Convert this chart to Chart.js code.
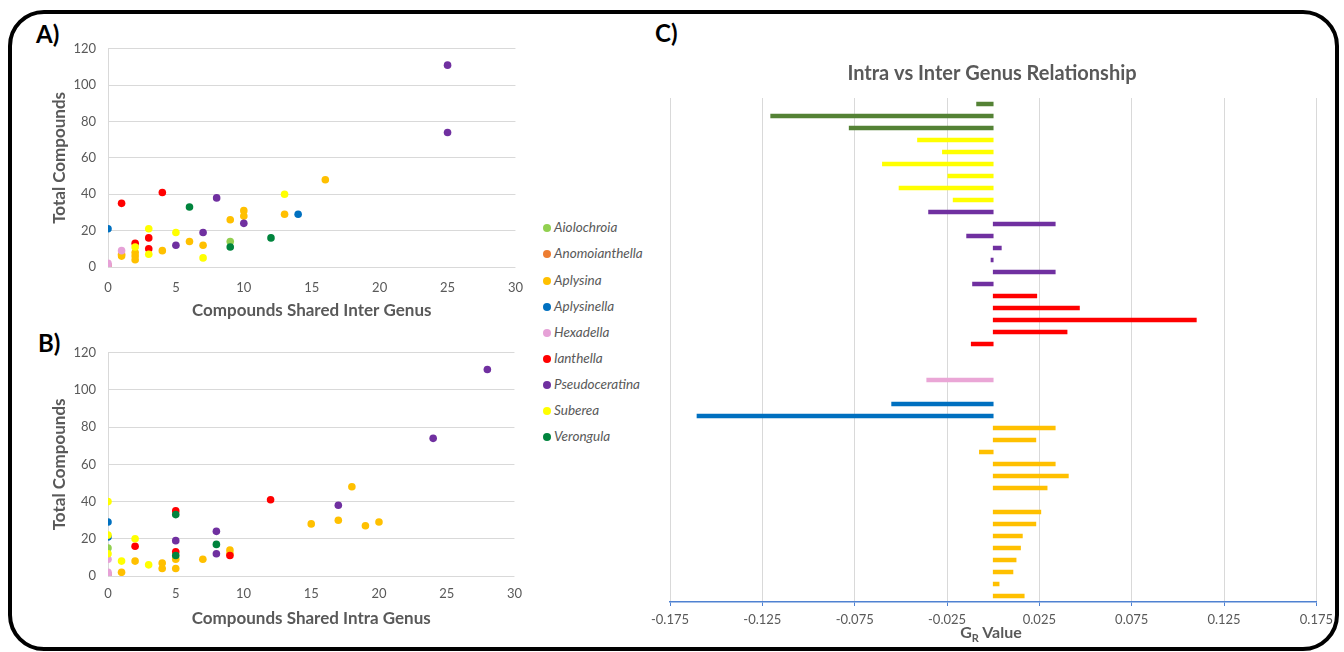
<!DOCTYPE html>
<html>
<head>
<meta charset="utf-8">
<script src="https://cdn.jsdelivr.net/npm/chart.js@4"></script>
<style>
    html, body { margin: 0; padding: 0; background: #fff; }
    body { width: 1344px; height: 652px; position: relative; overflow: hidden; font-family: Lato, "Open Sans", sans-serif; }
    canvas { position: absolute; }
    .frame {
        position: absolute; left: 8px; top: 10px; width: 1331px; height: 641px;
        border: 4px solid #000; border-radius: 36px; box-sizing: border-box;
        pointer-events: none; z-index: 5;
    }
    .panel-label { position: absolute; font-weight: bold; font-size: 24px; line-height: 1; color: #000; }
    .legend { position: absolute; left: 543px; top: 0; }
    .legend-item { position: absolute; left: 0; white-space: nowrap; font-style: italic; font-size: 13.5px; line-height: 14px; color: #595959; }
    .legend-dot { display: inline-block; width: 8px; height: 8px; border-radius: 50%; margin-right: 3px; }
    .gr-title { position: absolute; left: 900px; width: 182px; top: 624px; text-align: center; font-weight: bold; font-size: 16px; line-height: 1; color: #595959; }
    .gr-title sub { font-size: 11px; vertical-align: -4px; line-height: 0; }
</style>
</head>
<body>
<div class="frame"></div>
<div class="panel-label" style="left:36px; top:22px;">A)</div>
<div class="panel-label" style="left:38px; top:331px;">B)</div>
<div class="panel-label" style="left:655px; top:21px;">C)</div>

<canvas id="chartA" width="496" height="297" style="left:40px; top:29px;"></canvas>
<canvas id="chartB" width="492" height="307" style="left:40px; top:333px;"></canvas>
<canvas id="chartC" width="694" height="592" style="left:645px; top:50px;"></canvas>
<div class="legend" id="legend"></div>
<div class="gr-title">G<sub>R</sub> Value</div>

<script>
// genus names and colours used by the scatter plots / legend
const genera = ['Aiolochroia', 'Anomoianthella', 'Aplysina', 'Aplysinella', 'Hexadella', 'Ianthella', 'Pseudoceratina', 'Suberea', 'Verongula'];
const dotColors = ['#92D050', '#ED7D31', '#FFC000', '#0070C0', '#E6A1D7', '#FF0000', '#7030A0', '#FFFF00', '#00843D'];

// A) compounds shared inter genus vs total compounds  [x, y]
const aiolochroiaInter = [[9, 14]];
const anomoianthellaInter = [[0, 1]];
const aplysinaInter = [[1, 7], [1, 6], [2, 8], [2, 6], [2, 4], [4, 9], [6, 14], [7, 12], [9, 26], [10, 31], [10, 28], [13, 29], [16, 48]];
const aplysinellaInter = [[0, 21], [14, 29]];
const hexadellaInter = [[1, 9], [0, 2], [0, 1]];
const ianthellaInter = [[1, 35], [4, 41], [3, 16], [2, 13], [3, 10]];
const pseudoceratinaInter = [[25, 111], [25, 74], [8, 38], [10, 24], [7, 19], [5, 12]];
const subereaInter = [[13, 40], [3, 21], [5, 19], [2, 11], [3, 7], [7, 5]];
const verongulaInter = [[6, 33], [12, 16], [9, 11]];

// B) compounds shared intra genus vs total compounds  [x, y]
const aiolochroiaIntra = [[0, 15]];
const anomoianthellaIntra = [[0, 1]];
const aplysinaIntra = [[1, 2], [2, 8], [4, 7], [4, 4], [5, 9], [5, 4], [7, 9], [9, 14], [9, 12], [15, 28], [17, 30], [18, 48], [19, 27], [20, 29]];
const aplysinellaIntra = [[0, 29], [0, 21]];
const hexadellaIntra = [[0, 9], [0, 2], [0, 1]];
const ianthellaIntra = [[12, 41], [5, 35], [2, 16], [5, 13], [9, 11]];
const pseudoceratinaIntra = [[28, 111], [24, 74], [17, 38], [8, 24], [5, 19], [8, 12]];
const subereaIntra = [[0, 40], [0, 22], [2, 20], [0, 12], [1, 8], [3, 6]];
const verongulaIntra = [[5, 33], [8, 17], [5, 11]];

const interData = [aiolochroiaInter, anomoianthellaInter, aplysinaInter, aplysinellaInter, hexadellaInter, ianthellaInter, pseudoceratinaInter, subereaInter, verongulaInter];
const intraData = [aiolochroiaIntra, anomoianthellaIntra, aplysinaIntra, aplysinellaIntra, hexadellaIntra, ianthellaIntra, pseudoceratinaIntra, subereaIntra, verongulaIntra];

// C) GR value per species, top to bottom (null = no bar)
const grGenus = [
    'Verongula', 'Verongula', 'Verongula',
    'Suberea', 'Suberea', 'Suberea', 'Suberea', 'Suberea', 'Suberea',
    'Pseudoceratina', 'Pseudoceratina', 'Pseudoceratina', 'Pseudoceratina', 'Pseudoceratina', 'Pseudoceratina', 'Pseudoceratina',
    'Ianthella', 'Ianthella', 'Ianthella', 'Ianthella', 'Ianthella',
    'Hexadella', 'Hexadella', 'Hexadella',
    'Aiolochroia',
    'Aplysinella', 'Aplysinella',
    'Aplysina', 'Aplysina', 'Aplysina', 'Aplysina', 'Aplysina', 'Aplysina', 'Aplysina', 'Aplysina',
    'Aplysina', 'Aplysina', 'Aplysina', 'Aplysina', 'Aplysina', 'Aplysina', 'Aplysina'
];
const grValues = [
    -0.009, -0.1205, -0.078,
    -0.041, -0.0275, -0.060, -0.0246, -0.051, -0.0217,
    -0.035, 0.0336, -0.0144, 0.0044, -0.0012, 0.0336, -0.0112,
    0.0236, 0.0467, 0.110, 0.040, -0.0119,
    null, null, -0.036,
    null,
    -0.055, -0.1604,
    0.0336, 0.0231, -0.0075, 0.0336, 0.0407, 0.0292, null, 0.0258,
    0.0231, 0.0158, 0.0148, 0.0124, 0.0107, 0.0032, 0.0168
];
const grTicks = [-0.175, -0.125, -0.075, -0.025, 0.025, 0.075, 0.125, 0.175];
const barColors = {
    Verongula: '#548235', Suberea: '#FFFF00', Pseudoceratina: '#7030A0', Ianthella: '#FF0000',
    Hexadella: '#EAA6D6', Aiolochroia: '#92D050', Aplysinella: '#0070C0', Aplysina: '#FFC000'
};

const FONT = 'Lato, "Open Sans", sans-serif';
const GREY = '#595959';
const GRID = '#d9d9d9';

// legend between the scatter plots
const legendEl = document.getElementById('legend');
const legendTops = [227, 253, 280, 306, 332, 358, 384, 410, 436];
genera.forEach((g, i) => {
    const item = document.createElement('div');
    item.className = 'legend-item';
    item.style.top = (legendTops[i] - 7) + 'px';
    item.innerHTML = `<span class="legend-dot" style="background:${dotColors[i]}"></span>${g}`;
    legendEl.appendChild(item);
});

const scatterDatasets = (data) => genera.map((g, i) => ({
    label: g,
    data: data[i].map(([x, y]) => ({ x, y })),
    backgroundColor: dotColors[i],
    borderWidth: 0,
    pointRadius: 3.8,
    order: genera.length - i // later genera drawn on top
}));

const scatterOptions = (xTitle, o) => ({
    responsive: false,
    animation: false,
    layout: { padding: { top: o.padTop, right: 0, bottom: 0, left: 0 } },
    plugins: { legend: { display: false }, tooltip: { enabled: false } },
    scales: {
        x: {
            type: 'linear', min: 0, max: 30,
            ticks: { stepSize: 5, color: GREY, font: { family: FONT, size: 13 }, padding: o.tickPad },
            grid: { display: false, drawTicks: false },
            border: { display: false },
            title: { display: true, text: xTitle, color: GREY, font: { family: FONT, size: 17, weight: 'bold' }, padding: { top: 0, bottom: o.titlePad } },
            afterFit: s => { s.height = o.xHeight; }
        },
        y: {
            min: 0, max: 120,
            ticks: { stepSize: 20, color: GREY, font: { family: FONT, size: 13 }, padding: 12 },
            grid: { color: GRID, drawTicks: false },
            border: { display: true, color: GRID },
            title: { display: true, text: 'Total Compounds', color: GREY, font: { family: FONT, size: 17, weight: 'bold' }, padding: { top: 9, bottom: 0 } },
            afterFit: s => { s.width = 68; }
        }
    }
});

new Chart(document.getElementById('chartA'), {
    type: 'scatter',
    data: { datasets: scatterDatasets(interData) },
    options: scatterOptions('Compounds Shared Inter Genus', { padTop: 3, tickPad: 13, titlePad: 5, xHeight: 59 })
});

new Chart(document.getElementById('chartB'), {
    type: 'scatter',
    data: { datasets: scatterDatasets(intraData) },
    options: scatterOptions('Compounds Shared Intra Genus', { padTop: 4, tickPad: 10, titlePad: 11, xHeight: 64 })
});

new Chart(document.getElementById('chartC'), {
    type: 'bar',
    data: {
        labels: grGenus.map((g, i) => g + ' ' + (i + 1)),
        datasets: [{
            data: grValues,
            backgroundColor: grGenus.map(g => barColors[g]),
            borderWidth: 0,
            barThickness: 4
        }]
    },
    options: {
        indexAxis: 'y',
        responsive: false,
        animation: false,
        layout: { padding: 0 },
        plugins: {
            legend: { display: false },
            tooltip: { enabled: false },
            title: {
                display: true,
                text: 'Intra vs Inter Genus Relationship',
                color: GREY,
                font: { family: FONT, size: 20, weight: 'bold' },
                padding: { top: 12, bottom: 12 }
            }
        },
        scales: {
            x: {
                type: 'linear', min: -0.175, max: 0.175,
                afterBuildTicks: s => { s.ticks = grTicks.map(v => ({ value: v })); },
                ticks: { color: GREY, font: { family: FONT, size: 13 }, padding: 6, callback: v => v.toFixed(3) },
                grid: { color: GRID, tickColor: '#4F81D1', tickLength: 4 },
                border: { color: '#4F81D1', width: 1.5 },
                afterFit: s => { s.height = 40; }
            },
            y: {
                ticks: { display: false },
                grid: { display: false },
                border: { display: false },
                afterFit: s => { s.width = 20; }
            }
        }
    }
});
</script>
</body>
</html>
